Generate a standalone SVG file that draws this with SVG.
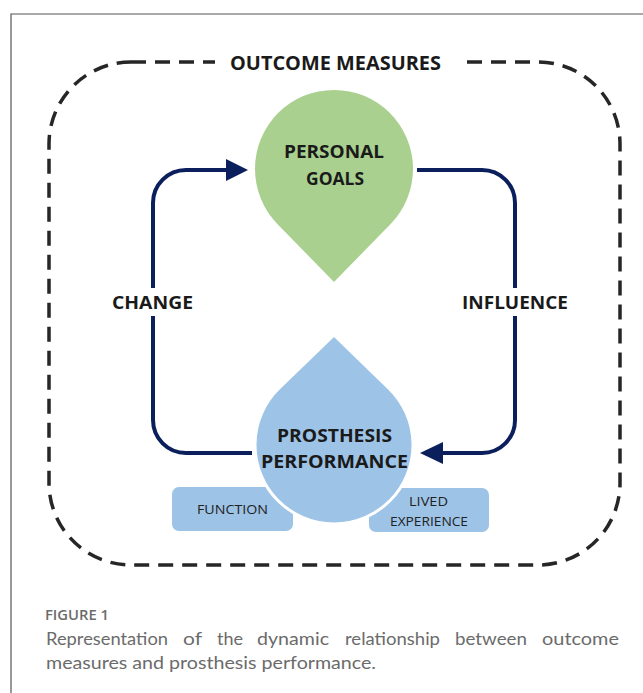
<svg xmlns="http://www.w3.org/2000/svg" width="643" height="693" viewBox="0 0 643 693">
<style>
.lbl{font-family:"Open Sans","Liberation Sans",sans-serif;font-weight:700;fill:#1a1a1a;text-anchor:middle}
.sm{font-family:"Open Sans","Liberation Sans",sans-serif;font-weight:400;fill:#222;font-size:13px;text-anchor:middle}
.conn{fill:none;stroke:#0b1f5c;stroke-width:4}
.cap{font-family:"Lato","Open Sans",sans-serif;fill:#6b6b6b;font-size:17px}
.bg{fill:#fff}
</style>
<rect width="643" height="693" fill="#fff"/>
<path d="M11 693 V14 H643" fill="none" stroke="#555" stroke-width="1.2"/>
<g id="outcome-measures">
<rect x="49" y="62" width="571" height="503" rx="82" fill="none" stroke="#262626" stroke-width="3.5" stroke-dasharray="15 9"/>
<rect class="bg" x="215" y="50" width="244" height="26"/>
<text class="lbl" x="335.5" y="70" font-size="20" fill="#2a2a2a" textLength="211" lengthAdjust="spacingAndGlyphs">OUTCOME MEASURES</text>
</g>
<g id="connectors">
<path class="conn" d="M252 453 H186 A33 33 0 0 1 153 420 V203 A33 33 0 0 1 186 170 H228"/>
<polygon points="226,159 248,170 226,181" fill="#0b1f5c"/>
<path class="conn" d="M417 170 H482 A33 33 0 0 1 515 203 V420 A33 33 0 0 1 482 453 H441"/>
<polygon points="443,442 420,453 443,464" fill="#0b1f5c"/>
</g>
<g id="change">
<rect class="bg" x="107" y="288" width="92" height="28"/>
<text class="lbl" x="152.5" y="309" font-size="17" textLength="81" lengthAdjust="spacingAndGlyphs">CHANGE</text>
</g>
<g id="influence">
<rect class="bg" x="457" y="288" width="116" height="28"/>
<text class="lbl" x="515" y="309" font-size="17" textLength="106" lengthAdjust="spacingAndGlyphs">INFLUENCE</text>
</g>
<g id="personal-goals">
<path d="M334 282 L277.6 224.2 A79 79 0 1 1 390.4 224.2 Z" fill="#a9d08e"/>
<text class="lbl" x="334" y="158" font-size="18" textLength="100" lengthAdjust="spacingAndGlyphs">PERSONAL</text>
<text class="lbl" x="335" y="185" font-size="18" textLength="58" lengthAdjust="spacingAndGlyphs">GOALS</text>
</g>
<g id="function">
<rect x="172" y="487" width="121" height="44" rx="7" fill="#9dc3e6"/>
<text class="sm" x="232.5" y="514" textLength="71" lengthAdjust="spacingAndGlyphs">FUNCTION</text>
</g>
<g id="lived-experience">
<rect x="369" y="488" width="120" height="44" rx="7" fill="#9dc3e6"/>
<text class="sm" x="428.5" y="506" textLength="39" lengthAdjust="spacingAndGlyphs">LIVED</text>
<text class="sm" x="429" y="526" textLength="78" lengthAdjust="spacingAndGlyphs">EXPERIENCE</text>
</g>
<g id="prosthesis-performance">
<path d="M334 335 L389.1 388.3 A79 79 0 1 1 278.9 388.3 Z" fill="#9dc3e6" stroke="#fff" stroke-width="3"/>
<text class="lbl" x="334.5" y="442" font-size="18" textLength="115" lengthAdjust="spacingAndGlyphs">PROSTHESIS</text>
<text class="lbl" x="334.5" y="468" font-size="18" textLength="147" lengthAdjust="spacingAndGlyphs">PERFORMANCE</text>
</g>
<g id="caption">
<text x="45" y="620" font-family="'Open Sans','Liberation Sans',sans-serif" font-weight="600" font-size="13.5" fill="#6b6b6b" textLength="64" lengthAdjust="spacingAndGlyphs">FIGURE 1</text>
<text class="cap" y="645"><tspan x="46" textLength="122" lengthAdjust="spacingAndGlyphs">Representation</tspan><tspan x="183" textLength="19" lengthAdjust="spacingAndGlyphs">of</tspan><tspan x="217" textLength="26" lengthAdjust="spacingAndGlyphs">the</tspan><tspan x="257" textLength="72" lengthAdjust="spacingAndGlyphs">dynamic</tspan><tspan x="345" textLength="95" lengthAdjust="spacingAndGlyphs">relationship</tspan><tspan x="455" textLength="72" lengthAdjust="spacingAndGlyphs">between</tspan><tspan x="542" textLength="77" lengthAdjust="spacingAndGlyphs">outcome</tspan></text>
<text class="cap" x="46" y="669" textLength="330" lengthAdjust="spacingAndGlyphs">measures and prosthesis performance.</text>
</g>
</svg>
